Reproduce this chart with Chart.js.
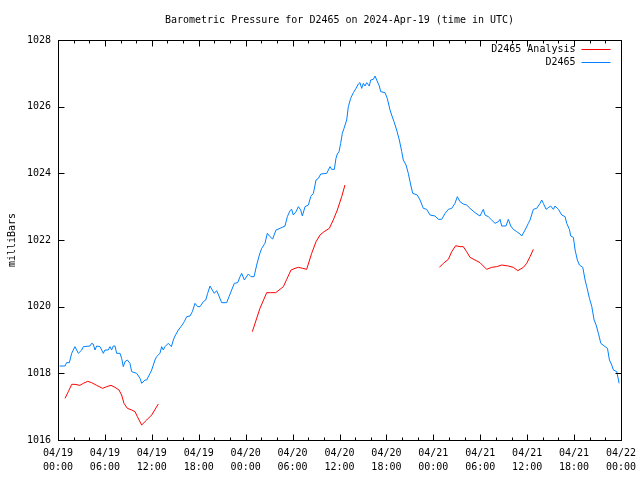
<!DOCTYPE html>
<html>
<head>
<meta charset="utf-8">
<style>
  html, body { margin: 0; padding: 0; background: #ffffff; }
  #wrap { width: 640px; height: 480px; }
</style>
<script src="https://cdn.jsdelivr.net/npm/chart.js@4/dist/chart.umd.min.js"></script>
</head>
<body>
<div id="wrap"><canvas id="c" width="640" height="480"></canvas></div>
<script>
// ---- Data (hours since 2024-04-19 00:00 UTC) ----
const chartTitle = 'Barometric Pressure for D2465 on 2024-Apr-19 (time in UTC)';
const yAxisTitle = 'milliBars';
const seriesNames = ['D2465 Analysis', 'D2465'];

const blueHours = [0.2,0.9,1.1,1.45,1.75,2.17,2.6,3.03,3.24,4.09,4.3,4.5,4.73,4.94,5.37,5.8,6.0,6.43,6.65,6.86,7.07,7.29,7.5,7.93,8.14,8.35,8.57,8.87,9.2,9.42,10.06,10.49,10.7,11.13,11.34,11.77,11.98,12.4,12.6,13.04,13.26,13.47,13.68,14.1,14.5,14.75,14.96,15.39,15.73,16.15,16.46,16.88,17.18,17.52,17.86,18.16,18.58,18.89,19.14,19.44,19.73,19.99,20.29,20.59,20.93,21.57,21.87,22.21,22.55,22.98,23.28,23.49,23.83,24.34,24.68,25.07,25.41,25.75,26.05,26.47,26.77,27.11,27.45,27.88,28.39,29.03,29.33,29.67,29.88,30.09,30.44,30.74,31.04,31.25,31.59,32.02,32.32,32.66,33.0,33.3,33.6,34.37,34.79,35.0,35.34,35.55,35.72,35.94,36.15,36.36,36.58,36.92,37.13,37.43,37.77,38.12,38.41,38.62,38.84,39.05,39.26,39.48,39.81,39.99,40.33,40.54,40.76,41.09,41.27,41.82,42.11,42.46,42.67,42.97,43.31,43.65,43.96,44.16,44.51,44.8,45.11,45.36,45.95,46.3,46.72,47.15,47.58,48.22,48.64,49.07,49.5,49.92,50.35,50.77,51.07,51.41,51.83,52.26,52.69,53.33,53.97,54.39,54.61,55.03,55.46,55.89,56.31,56.53,56.74,57.29,57.59,57.9,58.23,58.66,59.09,59.3,59.73,60.15,60.37,60.79,61.22,61.65,61.86,62.07,62.42,63.0,63.35,63.56,64.0,64.42,64.85,65.06,65.4,65.57,65.91,66.13,66.42,66.68,67.11,67.41,67.62,67.96,68.27,68.56,68.82,69.11,69.42,69.97,70.27,70.52,70.82,71.03,71.46,71.76];
const blueValues = [1018.22,1018.22,1018.32,1018.32,1018.6,1018.8,1018.6,1018.7,1018.8,1018.82,1018.9,1018.88,1018.7,1018.82,1018.8,1018.6,1018.7,1018.7,1018.8,1018.7,1018.82,1018.82,1018.6,1018.6,1018.45,1018.2,1018.35,1018.4,1018.3,1018.05,1018.0,1017.85,1017.7,1017.8,1017.8,1018.0,1018.1,1018.4,1018.5,1018.6,1018.8,1018.7,1018.8,1018.9,1018.8,1019.0,1019.12,1019.3,1019.4,1019.55,1019.7,1019.72,1019.85,1020.1,1020.0,1020.0,1020.15,1020.2,1020.4,1020.62,1020.5,1020.4,1020.48,1020.32,1020.12,1020.12,1020.3,1020.5,1020.7,1020.72,1020.9,1021.0,1020.8,1020.98,1020.9,1020.9,1021.25,1021.55,1021.75,1021.9,1022.2,1022.1,1022.03,1022.3,1022.35,1022.42,1022.7,1022.88,1022.92,1022.75,1022.85,1023.0,1022.9,1022.72,1023.0,1023.05,1023.3,1023.4,1023.8,1023.85,1023.98,1024.0,1024.2,1024.12,1024.12,1024.45,1024.58,1024.65,1024.9,1025.2,1025.35,1025.6,1026.0,1026.25,1026.42,1026.55,1026.68,1026.72,1026.55,1026.7,1026.62,1026.72,1026.62,1026.8,1026.82,1026.92,1026.8,1026.62,1026.45,1026.42,1026.25,1025.9,1025.75,1025.55,1025.3,1025.0,1024.65,1024.4,1024.25,1024.0,1023.65,1023.4,1023.35,1023.2,1022.95,1022.92,1022.75,1022.72,1022.62,1022.62,1022.8,1022.92,1022.95,1023.1,1023.3,1023.15,1023.08,1023.05,1022.95,1022.82,1022.72,1022.92,1022.75,1022.7,1022.6,1022.5,1022.55,1022.62,1022.42,1022.42,1022.62,1022.42,1022.32,1022.25,1022.18,1022.12,1022.3,1022.5,1022.6,1022.92,1022.95,1023.1,1023.2,1023.1,1022.92,1023.02,1022.92,1023.02,1022.92,1022.75,1022.7,1022.5,1022.32,1022.12,1022.08,1021.7,1021.4,1021.25,1021.18,1020.8,1020.6,1020.25,1020.0,1019.6,1019.45,1019.2,1018.9,1018.8,1018.75,1018.4,1018.25,1018.1,1018.05,1017.7];

// null separates the analysis segments
const redHours = [0.9,1.32,1.75,2.17,2.8,3.24,3.8,4.3,4.94,5.71,6.22,6.78,7.29,7.8,8.14,8.44,8.87,9.42,9.85,10.15,10.7,11.34,11.98,12.83,
  18.0,
  24.85,25.83,26.69,27.2,27.84,28.39,28.82,29.25,29.8,30.31,30.74,31.29,31.8,32.44,33.0,33.51,34.02,34.7,35.2,35.72,36.28,36.7,
  42.0,
  48.77,49.28,49.92,50.35,50.86,51.41,51.83,52.26,52.69,53.33,53.97,54.82,55.46,56.1,56.74,57.59,58.23,58.8,59.52,59.94,60.37,60.79];
const redValues = [1017.25,1017.45,1017.67,1017.67,1017.64,1017.7,1017.76,1017.72,1017.64,1017.55,1017.6,1017.64,1017.58,1017.5,1017.35,1017.1,1016.95,1016.9,1016.85,1016.7,1016.45,1016.6,1016.75,1017.08,
  null,
  1019.25,1019.95,1020.42,1020.42,1020.42,1020.52,1020.6,1020.82,1021.1,1021.15,1021.18,1021.15,1021.12,1021.6,1021.95,1022.15,1022.25,1022.35,1022.6,1022.9,1023.3,1023.65,
  null,
  1021.18,1021.3,1021.42,1021.65,1021.83,1021.8,1021.8,1021.65,1021.48,1021.4,1021.32,1021.12,1021.18,1021.2,1021.25,1021.22,1021.18,1021.08,1021.18,1021.3,1021.5,1021.72];

const xMin = 0, xMax = 72, xMajorStep = 6, xMinorStep = 2;
const yMin = 1016, yMax = 1028, yStep = 2;
const startDay = 19, monthLabel = '04';

const FONT = '"DejaVu Sans Mono", "Liberation Mono", monospace';
const RED = '#ff0000';
const BLUE = '#0080ff';

function pad2(n) { return (n < 10 ? '0' : '') + n; }
function xLabel(v) {
  const day = startDay + Math.floor(v / 24);
  const hr = v % 24;
  return [monthLabel + '/' + pad2(day), pad2(hr) + ':00'];
}

const toXY = (hs, vs) => hs.map((h, i) => ({ x: h, y: vs[i] }));

// frame, inward ticks and gnuplot-style legend
const framePlugin = {
  id: 'frame',
  afterDraw(chart) {
    const ctx = chart.ctx;
    const a = chart.chartArea;
    const xs = chart.scales.x, ys = chart.scales.y;
    const L = Math.round(a.left) + 0.5, R = Math.round(a.right) + 0.5;
    const T = Math.round(a.top) + 0.5, B = Math.round(a.bottom) + 0.5;
    ctx.save();
    ctx.strokeStyle = '#000';
    ctx.lineWidth = 1;
    ctx.beginPath();
    for (let v = xMin; v <= xMax; v += xMinorStep) {
      const len = (v % xMajorStep === 0) ? 6 : 3;
      const px = Math.round(xs.getPixelForValue(v)) + 0.5;
      ctx.moveTo(px, B); ctx.lineTo(px, B - len);
      ctx.moveTo(px, T); ctx.lineTo(px, T + len);
    }
    for (let v = yMin; v <= yMax; v += yStep) {
      const py = Math.round(ys.getPixelForValue(v)) + 0.5;
      ctx.moveTo(L, py); ctx.lineTo(L + 6, py);
      ctx.moveTo(R, py); ctx.lineTo(R - 6, py);
    }
    ctx.stroke();
    ctx.strokeRect(L, T, R - L, B - T);

    // legend
    ctx.font = '10px ' + FONT;
    ctx.fillStyle = '#000';
    ctx.textAlign = 'right';
    ctx.textBaseline = 'middle';
    const items = [
      { label: seriesNames[0], color: RED },
      { label: seriesNames[1], color: BLUE }
    ];
    items.forEach((it, i) => {
      const y = Math.round(a.top) + 9 + i * 13;
      ctx.fillText(it.label, R - 46, y);
      ctx.strokeStyle = it.color;
      ctx.beginPath();
      ctx.moveTo(R - 40, y + 0.5);
      ctx.lineTo(R - 11, y + 0.5);
      ctx.stroke();
    });
    ctx.restore();
  }
};

new Chart(document.getElementById('c'), {
  type: 'line',
  data: {
    datasets: [
      {
        label: seriesNames[0],
        data: toXY(redHours, redValues),
        borderColor: RED,
        backgroundColor: RED,
        borderWidth: 1,
        pointRadius: 0,
        tension: 0,
        spanGaps: false,
        fill: false
      },
      {
        label: seriesNames[1],
        data: toXY(blueHours, blueValues),
        borderColor: BLUE,
        backgroundColor: BLUE,
        borderWidth: 1,
        pointRadius: 0,
        tension: 0,
        fill: false
      }
    ]
  },
  options: {
    responsive: false,
    animation: false,
    layout: { padding: { top: 0, right: 19, left: 0, bottom: 0 } },
    plugins: {
      legend: { display: false },
      tooltip: { enabled: false },
      title: {
        display: true,
        text: chartTitle,
        fullSize: false,
        color: '#000',
        font: { family: FONT, size: 10, weight: 'normal', lineHeight: 1.2 },
        padding: { top: 14, bottom: 14 }
      }
    },
    scales: {
      x: {
        type: 'linear',
        min: xMin,
        max: xMax,
        afterFit(scale) { scale.height = 40; scale.paddingLeft = 0; scale.paddingRight = 0; },
        border: { display: false },
        grid: { display: false, drawTicks: false },
        ticks: {
          stepSize: xMajorStep,
          autoSkip: false,
          maxRotation: 0,
          minRotation: 0,
          padding: 7,
          color: '#000',
          font: { family: FONT, size: 10, lineHeight: 1.35 },
          callback: (v) => xLabel(v)
        }
      },
      y: {
        type: 'linear',
        min: yMin,
        max: yMax,
        afterFit(scale) { scale.width = 58; scale.paddingTop = 0; scale.paddingBottom = 0; },
        border: { display: false },
        grid: { display: false, drawTicks: false },
        title: {
          display: true,
          text: yAxisTitle,
          color: '#000',
          font: { family: FONT, size: 10, lineHeight: 1.2 },
          padding: { top: 6, bottom: 0 }
        },
        ticks: {
          stepSize: yStep,
          padding: 7,
          color: '#000',
          font: { family: FONT, size: 10 },
          callback: (v) => String(v)
        }
      }
    }
  },
  plugins: [framePlugin]
});
</script>
</body>
</html>
